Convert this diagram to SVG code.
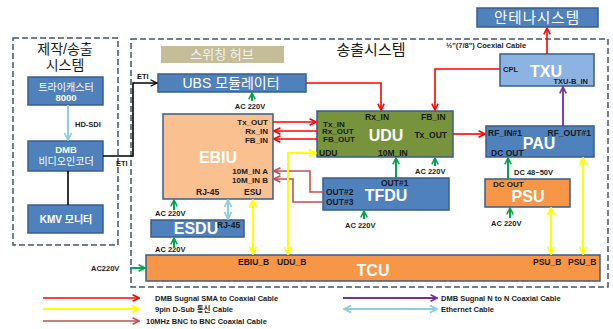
<svg xmlns="http://www.w3.org/2000/svg" width="613" height="329" viewBox="0 0 613 329">
<style>
text{font-family:"Liberation Sans","Noto Sans CJK KR",sans-serif;}
.p{font-size:8.5px;font-weight:bold;fill:#1a1a1a;}
.q{font-size:8px;font-weight:bold;fill:#1a1a1a;}
.s{font-size:7.5px;font-weight:bold;fill:#1a1a1a;}
.big{font-size:16px;font-weight:bold;fill:#fff;}
.kw{fill:#fff;}
.blue{fill:#4f81bd;stroke:#385d8a;stroke-width:1.5;}
.lblue{fill:#8db3e2;stroke:#385d8a;stroke-width:1.5;}
.peach{fill:#fac090;stroke:#385d8a;stroke-width:1.5;}
.orange{fill:#f79646;stroke:#385d8a;stroke-width:1.5;}
.olive{fill:#77933c;stroke:#385d8a;stroke-width:1.5;}
.dash{fill:none;stroke:#44546a;stroke-width:1.5;stroke-dasharray:6 3;}
.c{fill:none;stroke-width:1.6;}
.red{stroke:#ff0000;}
.yel{stroke:#ffff00;stroke-width:2;}
.grn{stroke:#00a550;stroke-width:2;}
.brn{stroke:#c0504d;}
.pur{stroke:#7030a0;stroke-width:1.8;}
.lb{stroke:#92cddc;stroke-width:2.2;}
.blk{stroke:#000;}
</style>
<defs>
<marker id="mr" viewBox="0 0 10 10" refX="9" refY="5" markerWidth="8" markerHeight="8" markerUnits="userSpaceOnUse" orient="auto-start-reverse"><path d="M1,1 L9,5 L1,9" fill="none" stroke="#ff0000" stroke-width="2"/></marker>
<marker id="my" viewBox="0 0 10 10" refX="9" refY="5" markerWidth="9" markerHeight="9" markerUnits="userSpaceOnUse" orient="auto-start-reverse"><path d="M1,1 L9,5 L1,9" fill="none" stroke="#ffff00" stroke-width="2"/></marker>
<marker id="mg" viewBox="0 0 10 10" refX="9" refY="5" markerWidth="8" markerHeight="8" markerUnits="userSpaceOnUse" orient="auto-start-reverse"><path d="M1,1 L9,5 L1,9" fill="none" stroke="#00a550" stroke-width="2"/></marker>
<marker id="mb" viewBox="0 0 10 10" refX="9" refY="5" markerWidth="8" markerHeight="8" markerUnits="userSpaceOnUse" orient="auto-start-reverse"><path d="M1,1 L9,5 L1,9" fill="none" stroke="#c0504d" stroke-width="2"/></marker>
<marker id="mp" viewBox="0 0 10 10" refX="9" refY="5" markerWidth="8" markerHeight="8" markerUnits="userSpaceOnUse" orient="auto-start-reverse"><path d="M1,1 L9,5 L1,9" fill="none" stroke="#7030a0" stroke-width="2"/></marker>
<marker id="ml" viewBox="0 0 10 10" refX="9" refY="5" markerWidth="9" markerHeight="9" markerUnits="userSpaceOnUse" orient="auto-start-reverse"><path d="M1,1 L9,5 L1,9" fill="none" stroke="#92cddc" stroke-width="2"/></marker>
<marker id="mk" viewBox="0 0 10 10" refX="9" refY="5" markerWidth="8" markerHeight="8" markerUnits="userSpaceOnUse" orient="auto-start-reverse"><path d="M1,1 L9,5 L1,9" fill="none" stroke="#000" stroke-width="1.6"/></marker>
</defs>
<rect width="613" height="329" fill="#fff"/>

<g id="production-system">
<rect class="dash" x="13" y="38" width="105" height="207"/>
<text x="65" y="54" text-anchor="middle" font-size="14" fill="#1a1a1a">제작/송출</text>
<text x="65" y="70" text-anchor="middle" font-size="14" fill="#1a1a1a">시스템</text>
</g>
<g id="transmit-system">
<rect class="dash" x="131" y="39" width="477" height="248"/>
<text x="371" y="55" text-anchor="middle" font-size="15" fill="#1a1a1a">송출시스템</text>
</g>

<g id="tricaster">
<rect class="blue" x="28" y="77" width="75" height="28"/>
<text x="66" y="91" text-anchor="middle" font-size="10" class="kw">트라이캐스터</text>
<text x="66" y="101" text-anchor="middle" font-size="9.5" font-weight="bold" class="kw">8000</text>
</g>
<g id="encoder">
<rect class="blue" x="28" y="141" width="75" height="30"/>
<text x="66" y="153" text-anchor="middle" font-size="9.5" font-weight="bold" class="kw">DMB</text>
<text x="66" y="165" text-anchor="middle" font-size="10" class="kw">비디오인코더</text>
</g>
<g id="kmv">
<rect class="blue" x="28" y="205" width="75" height="28"/>
<text x="66" y="223" text-anchor="middle" font-size="10" class="kw" font-weight="bold">KMV 모니터</text>
</g>

<g id="switching-hub">
<rect x="161" y="46" width="123" height="17" fill="#c4bd97"/>
<text x="222" y="59" text-anchor="middle" font-size="13" fill="#f2f2f2">스위칭 허브</text>
</g>
<g id="ubs">
<rect class="blue" x="158" y="74" width="148" height="18"/>
<text x="231" y="88" text-anchor="middle" font-size="14" fill="#fff">UBS 모듈레이터</text>
<text x="250" y="109" text-anchor="middle" class="s">AC 220V</text>
</g>
<g id="antenna">
<rect class="blue" x="477" y="8" width="121" height="19"/>
<text x="537" y="23" text-anchor="middle" font-size="14.5" fill="#fff" letter-spacing="1">안테나시스템</text>
</g>
<g id="txu">
<rect class="lblue" x="500" y="54" width="94" height="32"/>
<text x="503" y="72" class="s" font-size="7">CPL</text>
<text x="546" y="77" text-anchor="middle" class="big">TXU</text>
<text x="588" y="84" text-anchor="end" class="s">TXU-B_IN</text>
<text x="446" y="48" class="s" font-size="7">½"(7/8") Coexial  Cable</text>
</g>
<g id="ebiu">
<rect class="peach" x="163" y="114" width="110" height="85"/>
<text x="268" y="125" text-anchor="end" class="q">Tx_OUT</text>
<text x="268" y="134" text-anchor="end" class="q">Rx_IN</text>
<text x="268" y="143" text-anchor="end" class="q">FB_IN</text>
<text x="218" y="163" text-anchor="middle" class="big">EBIU</text>
<text x="268" y="174" text-anchor="end" class="q">10M_IN A</text>
<text x="268" y="182.5" text-anchor="end" class="q">10M_IN B</text>
<text x="196" y="195" class="p">RJ-45</text>
<text x="244" y="195" class="p">ESU</text>
<text x="155" y="216" class="s">AC 220V</text>
</g>
<g id="esdu">
<rect class="blue" x="151" y="220" width="93" height="17"/>
<text x="196" y="234" text-anchor="middle" class="big" font-size="15">ESDU</text>
<text x="217" y="228" class="p">RJ-45</text>
<text x="155" y="252" class="s">AC 220V</text>
</g>
<g id="udu">
<rect class="olive" x="317" y="111" width="136" height="46"/>
<text x="365" y="120" class="p">Rx_IN</text>
<text x="421" y="120" class="p">FB_IN</text>
<text x="323" y="126.5" class="q">Tx_IN</text>
<text x="322" y="134" class="q">Rx_OUT</text>
<text x="323" y="142" class="q">FB_OUT</text>
<text x="386" y="141" text-anchor="middle" class="big" font-size="17">UDU</text>
<text x="447" y="138" text-anchor="end" class="p">Tx_OUT</text>
<text x="319" y="156" class="p">UDU</text>
<text x="378" y="156" class="p">10M_IN</text>
<text x="415" y="174" class="s">AC 220V</text>
</g>
<g id="tfdu">
<rect class="blue" x="323" y="178" width="126" height="32"/>
<text x="381" y="186" class="p">OUT#1</text>
<text x="326" y="195" class="p">OUT#2</text>
<text x="326" y="205" class="p">OUT#3</text>
<text x="386" y="201" text-anchor="middle" class="big">TFDU</text>
<text x="345" y="228" class="s">AC 220V</text>
</g>
<g id="pau">
<rect class="blue" x="486" y="126" width="108" height="31"/>
<text x="488" y="136" class="p">RF_IN#1</text>
<text x="591" y="136" text-anchor="end" class="p">RF_OUT#1</text>
<text x="539" y="149" text-anchor="middle" class="big">PAU</text>
<text x="491" y="156" class="p">DC OUT</text>
<text x="514" y="175" class="s">DC 48~50V</text>
</g>
<g id="psu">
<rect class="orange" x="485" y="179" width="85" height="28"/>
<text x="493" y="187" class="q">DC OUT</text>
<text x="528" y="202" text-anchor="middle" class="big" font-size="15">PSU</text>
<text x="491" y="226" class="s">AC 220V</text>
</g>
<g id="tcu">
<rect class="orange" x="146" y="255" width="454" height="26"/>
<text x="238" y="265" class="p">EBIU_B</text>
<text x="277" y="265" class="p">UDU_B</text>
<text x="533" y="265" class="p">PSU_B</text>
<text x="568" y="265" class="p">PSU_B</text>
<text x="373" y="276" text-anchor="middle" class="big">TCU</text>
<text x="91" y="271" class="s">AC220V</text>
</g>

<g id="connectors">
<polyline class="c blk" points="103,156 133,156 133,83 157,83" marker-end="url(#mk)"/>
<text x="137" y="79" class="s" font-size="7">ETI</text>
<text x="116" y="166" class="s" font-size="7">ETI</text>
<line class="c lb" x1="68" y1="105" x2="68" y2="140" stroke-width="3" marker-end="url(#ml)"/>
<text x="75" y="127" class="s">HD-SDI</text>
<line class="c blk" x1="68" y1="171" x2="68" y2="205" stroke-width="3"/>

<polyline class="c red" points="306,83 381,83 381,110" marker-end="url(#mr)"/>
<polyline class="c red" points="500,69 435,69 435,110" marker-end="url(#mr)"/>
<line class="c red" x1="273" y1="122" x2="316" y2="122" marker-end="url(#mr)"/>
<line class="c red" x1="317" y1="131" x2="274" y2="131" marker-end="url(#mr)"/>
<line class="c red" x1="317" y1="139" x2="274" y2="139" marker-end="url(#mr)"/>
<line class="c red" x1="453" y1="134" x2="485" y2="134" marker-end="url(#mr)"/>
<line class="c red" x1="547" y1="54" x2="547" y2="28" marker-end="url(#mr)"/>
<line class="c pur" x1="563" y1="126" x2="563" y2="87" marker-end="url(#mp)"/>

<polyline class="c brn" points="323,192 310,192 310,171 274,171" marker-end="url(#mb)"/>
<polyline class="c brn" points="323,202 293,202 293,179 274,179" marker-end="url(#mb)"/>

<polyline class="c yel" points="316,153 288,153 288,254" marker-start="url(#my)" marker-end="url(#my)"/>
<line class="c yel" x1="253" y1="200" x2="253" y2="254" marker-start="url(#my)" marker-end="url(#my)"/>
<line class="c yel" x1="551" y1="208" x2="551" y2="254" marker-start="url(#my)" marker-end="url(#my)"/>
<line class="c yel" x1="583" y1="158" x2="583" y2="254" marker-start="url(#my)" marker-end="url(#my)"/>
<line class="c lb" x1="228" y1="200" x2="228" y2="219" marker-start="url(#ml)" marker-end="url(#ml)"/>

<line class="c grn" x1="252" y1="101" x2="252" y2="93" marker-end="url(#mg)"/>
<line class="c grn" x1="435" y1="166" x2="435" y2="158" marker-end="url(#mg)"/>
<line class="c grn" x1="396" y1="178" x2="396" y2="158" marker-end="url(#mg)"/>
<line class="c grn" x1="364" y1="219" x2="364" y2="211" marker-end="url(#mg)"/>
<line class="c grn" x1="174" y1="210" x2="174" y2="200" marker-end="url(#mg)"/>
<line class="c grn" x1="174" y1="248" x2="174" y2="238" marker-end="url(#mg)"/>
<line class="c grn" x1="130" y1="268" x2="145" y2="268" marker-end="url(#mg)"/>
<line class="c grn" x1="508" y1="179" x2="508" y2="158" marker-end="url(#mg)"/>
<line class="c grn" x1="510" y1="218" x2="510" y2="208" marker-end="url(#mg)"/>
</g>

<g id="legend">
<line class="c red" x1="43" y1="298" x2="139" y2="298" marker-end="url(#mr)"/>
<text x="155" y="301" class="s">DMB Sugnal  SMA to Coaxial Cable</text>
<line class="c yel" x1="43" y1="309" x2="139" y2="309" marker-end="url(#my)"/>
<text x="155" y="312" class="s">9pin D-Sub  통신  Cable</text>
<line class="c brn" x1="43" y1="321" x2="139" y2="321" marker-end="url(#mb)"/>
<text x="146" y="324" class="s">10MHz BNC to BNC Coaxial Cable</text>
<line class="c pur" x1="343" y1="298" x2="437" y2="298" marker-end="url(#mp)"/>
<text x="441" y="301" class="s">DMB Sugnal  N to N Coaxial  Cable</text>
<line class="c lb" x1="344" y1="309" x2="437" y2="309" marker-start="url(#ml)" marker-end="url(#ml)"/>
<text x="441" y="312" class="s">Ethernet Cable</text>
</g>
</svg>
